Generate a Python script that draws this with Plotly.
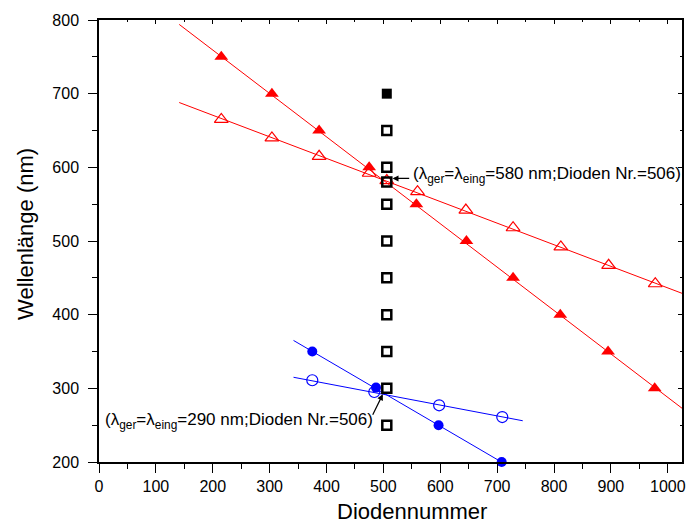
import plotly.graph_objects as go

# ---- data ----
red_filled_x = [215, 304, 387, 475, 558, 646, 728, 811, 895, 977]
red_filled_y = [750, 700, 650, 600, 550, 500, 450, 400, 350, 300]
red_open_x = [215, 304, 387, 475, 506, 560, 645, 728, 812, 896, 978]
red_open_y = [665, 640, 615, 592, 582, 567, 542, 518, 492, 467, 442]
red_fit_x = [141, 1025]
red_filled_fit_y = [794, 273]
red_open_fit_y = [688, 429]

sq_open_x = [506] * 10
sq_open_y = [650, 600, 580, 550, 500, 450, 400, 350, 300, 250]
sq_filled_x = [506]
sq_filled_y = [700]

blue_filled_x = [375, 487, 597, 708]
blue_filled_y = [350, 301, 250, 200]
blue_open_x = [375, 484, 598, 709]
blue_open_y = [311, 295, 277, 261]
blue_filled_fit_x = [342, 712]
blue_filled_fit_y = [365, 198]
blue_open_fit_x = [342, 745]
blue_open_fit_y = [315, 256]

x_ticks = list(range(0, 1001, 100))
y_ticks = list(range(200, 801, 100))

RED = "#ff0000"
BLUE = "#0000ff"
FONT = "Liberation Sans, Arial, sans-serif"

fig = go.Figure()
line_kw = dict(mode="lines", showlegend=False, hoverinfo="skip")
fig.add_trace(go.Scatter(x=red_fit_x, y=red_filled_fit_y, line=dict(color=RED, width=1), **line_kw))
fig.add_trace(go.Scatter(x=red_fit_x, y=red_open_fit_y, line=dict(color=RED, width=1), **line_kw))
fig.add_trace(go.Scatter(x=blue_filled_fit_x, y=blue_filled_fit_y, line=dict(color=BLUE, width=1), **line_kw))
fig.add_trace(go.Scatter(x=blue_open_fit_x, y=blue_open_fit_y, line=dict(color=BLUE, width=1), **line_kw))

fig.add_trace(go.Scatter(x=red_filled_x, y=red_filled_y, mode="markers", showlegend=False,
                         marker=dict(symbol="triangle-up", size=12, color=RED, line=dict(width=0))))
fig.add_trace(go.Scatter(x=red_open_x, y=red_open_y, mode="markers", showlegend=False,
                         marker=dict(symbol="triangle-up-open", size=12, color=RED, line=dict(width=1.2))))
fig.add_trace(go.Scatter(x=sq_open_x, y=sq_open_y, mode="markers", showlegend=False,
                         marker=dict(symbol="square-open", size=9, color="black", line=dict(width=2.5))))
fig.add_trace(go.Scatter(x=sq_filled_x, y=sq_filled_y, mode="markers", showlegend=False,
                         marker=dict(symbol="square", size=10, color="black", line=dict(width=0))))
fig.add_trace(go.Scatter(x=blue_filled_x, y=blue_filled_y, mode="markers", showlegend=False, cliponaxis=False,
                         marker=dict(symbol="circle", size=10, color=BLUE, line=dict(width=0))))
fig.add_trace(go.Scatter(x=blue_open_x, y=blue_open_y, mode="markers", showlegend=False,
                         marker=dict(symbol="circle-open", size=11, color=BLUE, line=dict(width=1.2))))
# empty trace so the mirrored top/right axes are drawn
fig.add_trace(go.Scatter(x=[], y=[], xaxis="x2", yaxis="y2", showlegend=False))

axis_common = dict(showgrid=False, zeroline=False, showline=True, linecolor="black", linewidth=1.5,
                   tickcolor="black", tickwidth=1.2)

fig.update_layout(
    width=693, height=524,
    margin=dict(l=99, r=7, t=20, b=62),
    paper_bgcolor="white", plot_bgcolor="white",
    font=dict(family=FONT, size=16, color="black"),
    xaxis=dict(range=[0, 1025], tickvals=x_ticks, ticks="outside", ticklen=9,
               minor=dict(dtick=50, tick0=0, ticks="outside", ticklen=5, tickcolor="black", tickwidth=1.2),
               tickfont=dict(size=16), **axis_common),
    yaxis=dict(range=[200, 800], tickvals=y_ticks, ticks="outside", ticklen=9, ticklabelstandoff=6,
               minor=dict(dtick=50, tick0=200, ticks="outside", ticklen=5, tickcolor="black", tickwidth=1.2),
               tickfont=dict(size=16), **axis_common),
    xaxis2=dict(range=[0, 1025], overlaying="x", side="top", anchor="y", tickvals=x_ticks, ticks="inside",
                ticklen=4, showticklabels=False,
                minor=dict(dtick=50, tick0=0, ticks="inside", ticklen=2, tickcolor="black"), **axis_common),
    yaxis2=dict(range=[200, 800], overlaying="y", side="right", anchor="x", tickvals=y_ticks, ticks="inside",
                ticklen=4, showticklabels=False,
                minor=dict(dtick=50, tick0=200, ticks="inside", ticklen=2, tickcolor="black"), **axis_common),
)

# axis titles
fig.add_annotation(x=0.537, y=-0.113, xref="paper", yref="paper", xanchor="center", yanchor="middle",
                   showarrow=False, text="Diodennummer", font=dict(size=22))
fig.add_annotation(x=-0.126, y=0.515, xref="paper", yref="paper", xanchor="center", yanchor="middle",
                   showarrow=False, text="Wellenlänge (nm)", textangle=-90, font=dict(size=22))

fig.add_annotation(x=549, y=589, xref="x", yref="y", xanchor="left", yanchor="middle", showarrow=False,
                   text="(λ<sub>ger</sub>=λ<sub>eing</sub>=580 nm;Dioden Nr.=506)", font=dict(size=17))
fig.add_annotation(x=516, y=585, ax=548, ay=585, xref="x", yref="y", axref="x", ayref="y", text="",
                   showarrow=True, arrowhead=2, arrowsize=1, arrowwidth=1.2, arrowcolor="black")
fig.add_annotation(x=7, y=255, xref="x", yref="y", xanchor="left", yanchor="middle", showarrow=False,
                   text="(λ<sub>ger</sub>=λ<sub>eing</sub>=290 nm;Dioden Nr.=506)", font=dict(size=17))
fig.add_annotation(x=499, y=292, ax=480, ay=262, xref="x", yref="y", axref="x", ayref="y", text="",
                   showarrow=True, arrowhead=2, arrowsize=1, arrowwidth=1.2, arrowcolor="black")

fig.write_html("out.html")
